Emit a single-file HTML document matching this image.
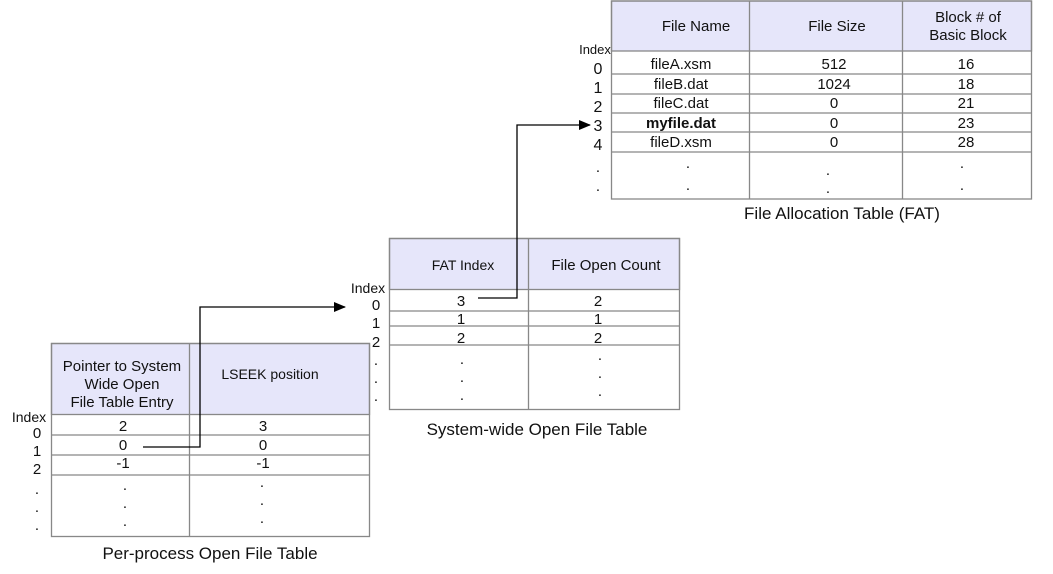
<!DOCTYPE html><html><head><style>
body{margin:0;background:#fff;width:1053px;height:569px;overflow:hidden}
svg text{font-family:"Liberation Sans",sans-serif;fill:#111}
</style></head><body>
<svg width="1053" height="569" viewBox="0 0 1053 569">
<defs><marker id="a" markerWidth="12" markerHeight="10" refX="11" refY="5" orient="auto" markerUnits="userSpaceOnUse"><path d="M0,0L12,5L0,10Z" fill="#000"/></marker></defs>
<g stroke="#888" stroke-width="1.3" fill="none">
<!-- FAT -->
<rect x="611.5" y="1" width="420" height="50" fill="#e6e6fa"/>
<rect x="611.5" y="1" width="420" height="198"/>
<path d="M611 74H1031M611 94H1031M611 113H1031M611 132H1031M611 152H1031M749.5 1V199M902.5 1V199"/>
<!-- System -->
<rect x="389.5" y="238.5" width="290" height="51" fill="#e6e6fa"/>
<rect x="389.5" y="238.5" width="290" height="171"/>
<path d="M389 311H679M389 326H679M389 345H679M528.5 238V410"/>
<!-- Per-process -->
<rect x="51.5" y="343.5" width="318" height="71" fill="#e6e6fa"/>
<rect x="51.5" y="343.5" width="318" height="193"/>
<path d="M51 435H369M51 455H369M51 475H369M189.5 343V537"/>
</g>
<g stroke="#000" stroke-width="1.3" fill="none">
<path d="M143 447H200V307H345" marker-end="url(#a)"/>
<path d="M478 298H517V125H590" marker-end="url(#a)"/>
</g>
<g font-size="15" text-anchor="middle">
<text x="696" y="31">File Name</text><text x="837" y="31">File Size</text>
<text x="968" y="22">Block # of</text><text x="968" y="40">Basic Block</text>
<text x="681" y="69">fileA.xsm</text><text x="834" y="69">512</text><text x="966" y="69">16</text>
<text x="681" y="89">fileB.dat</text><text x="834" y="89">1024</text><text x="966" y="89">18</text>
<text x="681" y="108">fileC.dat</text><text x="834" y="108">0</text><text x="966" y="108">21</text>
<text x="681" y="128" font-weight="bold">myfile.dat</text><text x="834" y="128">0</text><text x="966" y="128">23</text>
<text x="681" y="147">fileD.xsm</text><text x="834" y="147">0</text><text x="966" y="147">28</text>
<text x="688" y="168">.</text><text x="688" y="190">.</text><text x="828" y="175">.</text><text x="828" y="193">.</text><text x="962" y="168">.</text><text x="962" y="190">.</text>
<text x="595" y="54" font-size="13">Index</text>
<text x="598" y="74" font-size="16">0</text><text x="598" y="93" font-size="16">1</text><text x="598" y="112" font-size="16">2</text><text x="598" y="131" font-size="16">3</text><text x="598" y="150" font-size="16">4</text>
<text x="598" y="172">.</text><text x="598" y="191">.</text>
<text x="842" y="219" font-size="17">File Allocation Table (FAT)</text>

<text x="463" y="270" font-size="14">FAT Index</text><text x="606" y="270">File Open Count</text>
<text x="461" y="306">3</text><text x="598" y="306">2</text>
<text x="461" y="324">1</text><text x="598" y="324">1</text>
<text x="461" y="343">2</text><text x="598" y="343">2</text>
<text x="462" y="364">.</text><text x="462" y="382">.</text><text x="462" y="400">.</text>
<text x="600" y="360">.</text><text x="600" y="378">.</text><text x="600" y="396">.</text>
<text x="368" y="293" font-size="14">Index</text>
<text x="376" y="310">0</text><text x="376" y="328">1</text><text x="376" y="347">2</text>
<text x="376" y="365">.</text><text x="376" y="383">.</text><text x="376" y="401">.</text>
<text x="537" y="435" font-size="17">System-wide Open File Table</text>

<text x="122" y="371">Pointer to System</text><text x="122" y="389">Wide Open</text><text x="122" y="407">File Table Entry</text>
<text x="270" y="379" font-size="14">LSEEK position</text>
<text x="123" y="431">2</text><text x="263" y="431">3</text>
<text x="123" y="450">0</text><text x="263" y="450">0</text>
<text x="123" y="468">-1</text><text x="263" y="468">-1</text>
<text x="125" y="490">.</text><text x="125" y="508">.</text><text x="125" y="526">.</text>
<text x="262" y="487">.</text><text x="262" y="505">.</text><text x="262" y="523">.</text>
<text x="29" y="422" font-size="14">Index</text>
<text x="37" y="438">0</text><text x="37" y="456">1</text><text x="37" y="474">2</text>
<text x="37" y="494">.</text><text x="37" y="512">.</text><text x="37" y="530">.</text>
<text x="210" y="559" font-size="17">Per-process Open File Table</text>
</g>
</svg></body></html>
